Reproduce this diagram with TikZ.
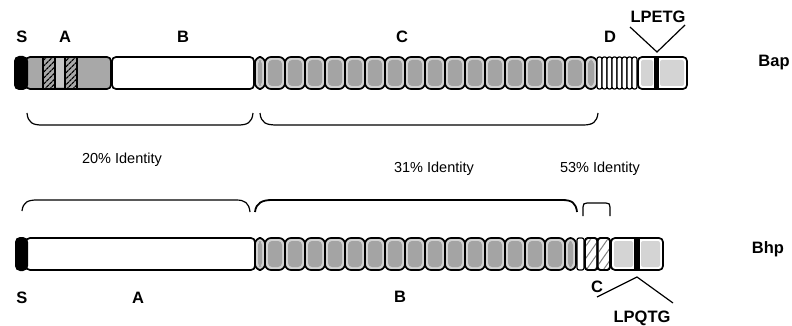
\documentclass[tikz,border=0pt]{standalone}
\usepackage{fontspec}
\setmainfont{Liberation Sans}
\usetikzlibrary{patterns.meta}
\definecolor{seginner}{HTML}{A4A4A4}
\definecolor{segouter}{HTML}{D2D2D2}
\definecolor{domgray}{HTML}{A8A8A8}
\definecolor{domlight}{HTML}{C6C6C6}
\definecolor{anchorfill}{HTML}{D4D4D4}
\tikzset{
  outline/.style={draw=black, line width=1.7pt, rounded corners=4pt},
  seg/.style={draw=black, line width=1.7pt, rounded corners=6pt, fill=segouter},
  thinstripe/.style={draw=black, line width=1.2pt, rounded corners=2pt, fill=white},
  capcap/.style={fill=black, rounded corners=5pt},
  lbl/.style={font=\fontsize{16.5}{17}\selectfont\bfseries, inner sep=0pt, anchor=base},
  ident/.style={font=\fontsize{14.5}{15}\selectfont, inner sep=0pt, anchor=base},
  brace/.style={draw=black, line width=1.2pt},
  motif/.style={draw=black, line width=1.2pt},
  densehatch/.style={pattern={Lines[angle=45, distance=4pt, line width=1.3pt]}, pattern color=black},
  lighthatch/.style={pattern={Lines[angle=55, distance=7pt, line width=1pt]}, pattern color=gray},
}
% one repeat unit of the C-type region
\newcommand{\repeatunit}[3]{% x-left, width, y-top
  \draw[seg] (#1,#3) rectangle ++(#2,32);
  \fill[seginner, rounded corners=4pt] ({#1+3},{#3+3}) rectangle ++({#2-6},26);
}
\begin{document}
\begin{tikzpicture}[x=1pt,y=-1pt]
\useasboundingbox[fill=white] (0,0) rectangle (792,326);

% ================= Bap =================
% A domain with two hatched repeats
\draw[outline, fill=domgray] (26,57) rectangle (111,89);
\fill[domlight] (55,58.5) rectangle (65,87.5);
\fill[densehatch] (43,58.5) rectangle (55,87.5);
\fill[densehatch] (65,58.5) rectangle (77,87.5);
\draw[line width=1.2pt] (43,57.5) -- (43,88.5) (55,57.5) -- (55,88.5)
                        (65,57.5) -- (65,88.5) (77,57.5) -- (77,88.5);
% signal peptide
\fill[capcap] (14,56) rectangle (28,90);
% B domain
\draw[outline, fill=white] (112,57) rectangle (254,89);
% C repeats
\repeatunit{255}{10}{57}
\foreach \i in {0,...,15}{
  \pgfmathsetmacro{\xa}{265+20*\i}
  \repeatunit{\xa}{20}{57}
}
\repeatunit{585}{12}{57}
% D region: short repeats
\foreach \i in {0,...,7}{
  \pgfmathsetmacro{\xa}{597+5*\i}
  \draw[thinstripe] (\xa,57) rectangle ++(5,32);
}
% cell-wall anchor
\draw[outline, fill=white] (638,57) rectangle (687,89);
\fill[anchorfill, rounded corners=2pt] (641,60) rectangle (653,86);
\fill[anchorfill, rounded corners=2pt] (660,60) rectangle (684,86);
\fill[black] (654,57) rectangle (659,89);

% labels
\node[lbl] (bapS) at (22,43) {S};
\node[lbl] (bapA) at (65,43) {A};
\node[lbl] (bapB) at (183,43) {B};
\node[lbl] (bapC) at (402,43) {C};
\node[lbl] (bapD) at (610,43) {D};
\node[lbl] (lpetg) at (658,23) {LPETG};
\node[lbl] (bap) at (774,67) {Bap};
\coordinate (petgL) at (630,27);
\coordinate (petgApex) at (657,52);
\coordinate (petgR) at (685,25);
\draw[motif] (petgL) -- (petgApex) -- (petgR);

% ================= identity braces =================
\draw[brace] (27,113) .. controls (28,123) and (33,125) .. (42,125) -- (238,125)
  .. controls (247,125) and (252,123) .. (253,113);
\draw[brace] (260,113) .. controls (261,123) and (266,125) .. (277,125) -- (583,125)
  .. controls (593,125) and (597,122) .. (598,113);

\node[ident] (id20) at (122,164) {20\% Identity};
\node[ident] (id31) at (434,172) {31\% Identity};
\node[ident] (id53) at (600,172) {53\% Identity};

\draw[brace] (22,211) .. controls (23,202) and (28,200) .. (37,200) -- (236,200)
  .. controls (245,200) and (249,203) .. (250,212);
\draw[brace, line width=1.8pt] (255,212) .. controls (256,203) and (262,200) .. (272,200) -- (562,200)
  .. controls (572,200) and (576,203) .. (577,212);
\draw[brace] (583,216) -- (583,207) .. controls (583,204) and (584,203) .. (587,203) -- (606,203)
  .. controls (609,203) and (610,204) .. (610,207) -- (610,216);

% ================= Bhp =================
\draw[outline, fill=white] (26,238) rectangle (255,270);
\fill[capcap] (15,237) rectangle (28,271);
\repeatunit{255}{10}{238}
\foreach \i in {0,...,14}{
  \pgfmathsetmacro{\xa}{265+20*\i}
  \repeatunit{\xa}{20}{238}
}
\repeatunit{565}{11}{238}
\draw[thinstripe] (577,238) rectangle (584,270);
\draw[outline, rounded corners=3pt, fill=white] (585,238) rectangle (597.5,270);
\fill[lighthatch] (586,239.5) rectangle (596.5,268.5);
\draw[outline, rounded corners=3pt, fill=white] (597.5,238) rectangle (610,270);
\fill[lighthatch] (598.5,239.5) rectangle (609,268.5);
\draw[outline, rounded corners=3pt] (585,238) rectangle (597.5,270);
\draw[outline, rounded corners=3pt] (597.5,238) rectangle (610,270);
% cell-wall anchor
\draw[outline, fill=white] (611,238) rectangle (663,270);
\fill[anchorfill, rounded corners=2pt] (614,241) rectangle (633,267);
\fill[anchorfill, rounded corners=2pt] (641,241) rectangle (660,267);
\fill[black] (634,238) rectangle (640,270);

\node[lbl] (bhpS) at (22,303) {S};
\node[lbl] (bhpA) at (138,303) {A};
\node[lbl] (bhpB) at (400,302) {B};
\node[lbl] (bhpC) at (597,292) {C};
\node[lbl] (lpqtg) at (642,322) {LPQTG};
\node[lbl] (bhp) at (768,253) {Bhp};
\coordinate (pqtgL) at (597,297);
\coordinate (pqtgApex) at (637,277);
\coordinate (pqtgR) at (673,303);
\draw[motif] (pqtgL) -- (pqtgApex) -- (pqtgR);
\end{tikzpicture}
\end{document}
